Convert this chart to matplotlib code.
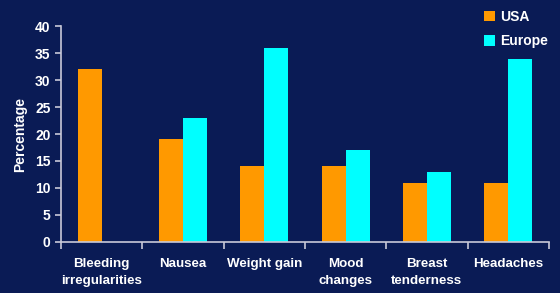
import matplotlib.pyplot as plt
import numpy as np

categories = ["Bleeding\nirregularities", "Nausea", "Weight gain", "Mood\nchanges",
              "Breast\ntenderness", "Headaches"]
usa = [32, 19, 14, 14, 11, 11]
europe = [0, 23, 36, 17, 13, 34]

bg = "#0a1b55"
axis_col = "#c8c8d8"

plt.rcParams['font.family'] = ['Liberation Sans Narrow', 'Liberation Sans', 'DejaVu Sans']
plt.rcParams['font.weight'] = 'bold'

fig = plt.figure(figsize=(5.6, 2.93), dpi=100, facecolor=bg)
ax = fig.add_axes([0.109, 0.175, 0.871, 0.735], facecolor=bg)

x = np.arange(len(categories))
w = 0.295
ax.bar(x - w / 2, usa, w, color="#ff9900", label="USA")
ax.bar(x + w / 2, europe, w, color="#00ffff", label="Europe")

ax.set_xlim(-0.5, len(categories) - 0.5)
ax.set_ylim(0, 40)
ax.set_yticks(range(0, 41, 5))

# ticks entre les catégories, étiquettes au centre
ax.set_xticks(np.arange(-0.5, len(categories), 1))
ax.set_xticklabels([])
ax.set_xticks(x, minor=True)
ax.set_xticklabels(categories, minor=True, color="white", fontsize=9.6, fontweight='bold',
                   linespacing=1.5)
ax.tick_params(axis='x', which='minor', length=0, pad=12)
ax.tick_params(axis='x', which='major', length=5, color=axis_col, width=1.2)
ax.tick_params(axis='y', length=4, color=axis_col, width=1.2, labelcolor="white", labelsize=10)

for s in ["top", "right"]:
    ax.spines[s].set_visible(False)
for s in ["left", "bottom"]:
    ax.spines[s].set_color(axis_col)
    ax.spines[s].set_linewidth(1.2)

ax.set_ylabel("Percentage", color="white", fontsize=10, fontweight='bold', labelpad=6)

leg = ax.legend(loc="upper right", bbox_to_anchor=(1.025, 1.135), frameon=False,
                fontsize=10, handlelength=0.8, handleheight=0.8, handletextpad=0.4,
                labelspacing=0.75, labelcolor="white")

plt.savefig("out.png", dpi=100, facecolor=bg)
